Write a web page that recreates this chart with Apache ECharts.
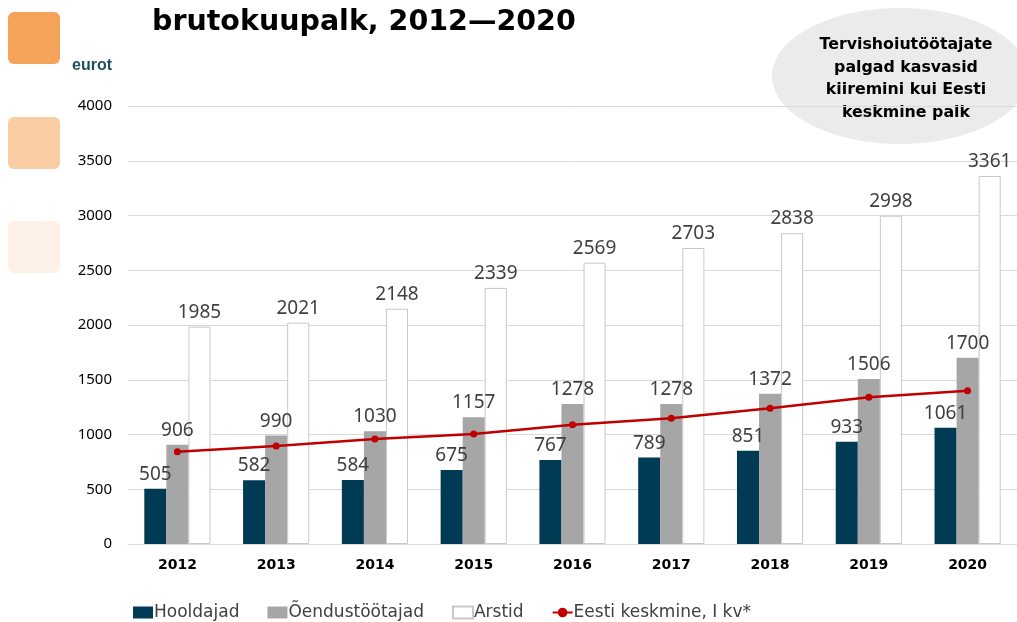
<!DOCTYPE html>
<html>
<head>
<meta charset="utf-8">
<script src="https://cdn.jsdelivr.net/npm/echarts@6/dist/echarts.min.js"></script>
<style>
  html, body { margin: 0; padding: 0; background: #fff; }
  #chart { width: 1017px; height: 622px; }
</style>
</head>
<body>
<div id="chart"></div>
<script>
// andmed
var years = ['2012', '2013', '2014', '2015', '2016', '2017', '2018', '2019', '2020'];
var hooldajad = [505, 582, 584, 675, 767, 789, 851, 933, 1061];
var oendus = [906, 990, 1030, 1157, 1278, 1278, 1372, 1506, 1700];
var arstid = [1985, 2021, 2148, 2339, 2569, 2703, 2838, 2998, 3361];
var keskmine = [843, 895, 959, 1005, 1090, 1148, 1239, 1340, 1400];
var yTicks = [0, 500, 1000, 1500, 2000, 2500, 3000, 3500, 4000];

var chart = echarts.init(document.getElementById('chart'));

var valueLabel = {
    show: true,
    position: 'top',
    distance: 5,
    color: '#404040',
    fontSize: 19,
    fontFamily: 'Noto Sans'
};

option = {
    animation: false,
    title: {
        text: 'brutokuupalk, 2012\u20142020',
        left: 147,
        top: 3,
        textStyle: {
            fontFamily: 'DejaVu Sans',
            fontWeight: 'bold',
            fontSize: 28.5,
            color: '#000'
        }
    },
    graphic: [
        // vasakpoolsed ruudud
        {type: 'rect', left: 8, top: 12, shape: {width: 52, height: 52, r: 6}, style: {fill: '#f5a35a'}},
        {type: 'rect', left: 8, top: 117, shape: {width: 52, height: 52, r: 6}, style: {fill: '#f9cda3'}},
        {type: 'rect', left: 8, top: 221, shape: {width: 52, height: 52, r: 6}, style: {fill: '#fdf0e6'}},
        {type: 'text', left: 72, top: 58, style: {text: 'eurot', fill: '#1f4e60', font: 'bold 16px "Liberation Sans"'}},
        // ellips
        {type: 'ellipse', shape: {cx: 900, cy: 76, rx: 128, ry: 68}, style: {fill: '#ebebeb'}},
        {
            type: 'text', x: 906, y: 79,
            style: {
                text: 'Tervishoiutöötajate\npalgad kasvasid\nkiiremini kui Eesti\nkeskmine palk',
                fill: '#000', font: 'bold 15.8px "DejaVu Sans"', lineHeight: 22.5,
                align: 'center', verticalAlign: 'middle'
            }
        }
    ],
    legend: {
        top: 599,
        left: 128,
        itemWidth: 20,
        itemHeight: 12,
        itemGap: 28,
        textStyle: {color: '#404040', fontSize: 17, fontFamily: 'DejaVu Sans', padding: [0, 0, 0, -4]},
        data: [
            {name: 'Hooldajad', icon: 'rect'},
            {name: 'Õendustöötajad', icon: 'rect'},
            {name: 'Arstid', icon: 'rect'},
            {name: 'Eesti keskmine, I kv*'}
        ]
    },
    grid: {
        left: 128,
        right: 0,
        top: 106,
        bottom: 78
    },
    xAxis: {
        type: 'category',
        data: years,
        axisTick: {show: false},
        axisLine: {lineStyle: {color: '#d9d9d9'}},
        axisLabel: {
            color: '#000',
            fontWeight: 'bold',
            fontSize: 14,
            fontFamily: 'DejaVu Sans',
            margin: 14
        }
    },
    yAxis: {
        type: 'value',
        min: yTicks[0],
        max: yTicks[yTicks.length - 1],
        interval: 500,
        axisLabel: {
            color: '#000',
            fontSize: 15,
            fontFamily: 'Noto Sans',
            margin: 16,
            formatter: function (v) { return String(v); }
        },
        splitLine: {lineStyle: {color: '#d9d9d9'}}
    },
    series: [
        {
            name: 'Hooldajad',
            type: 'bar',
            data: hooldajad,
            barGap: '0%',
            barCategoryGap: '33%',
            itemStyle: {color: '#003a55'},
            label: valueLabel
        },
        {
            name: 'Õendustöötajad',
            type: 'bar',
            data: oendus,
            itemStyle: {color: '#a6a6a6'},
            label: valueLabel
        },
        {
            name: 'Arstid',
            type: 'bar',
            data: arstid,
            itemStyle: {color: '#ffffff', borderColor: '#c8c8c8', borderWidth: 1},
            label: valueLabel
        },
        {
            name: 'Eesti keskmine, I kv*',
            type: 'line',
            data: keskmine,
            symbol: 'circle',
            symbolSize: 7,
            itemStyle: {color: '#c00000'},
            lineStyle: {color: '#c00000', width: 2.5}
        }
    ]
};

chart.setOption(option);
</script>
</body>
</html>
